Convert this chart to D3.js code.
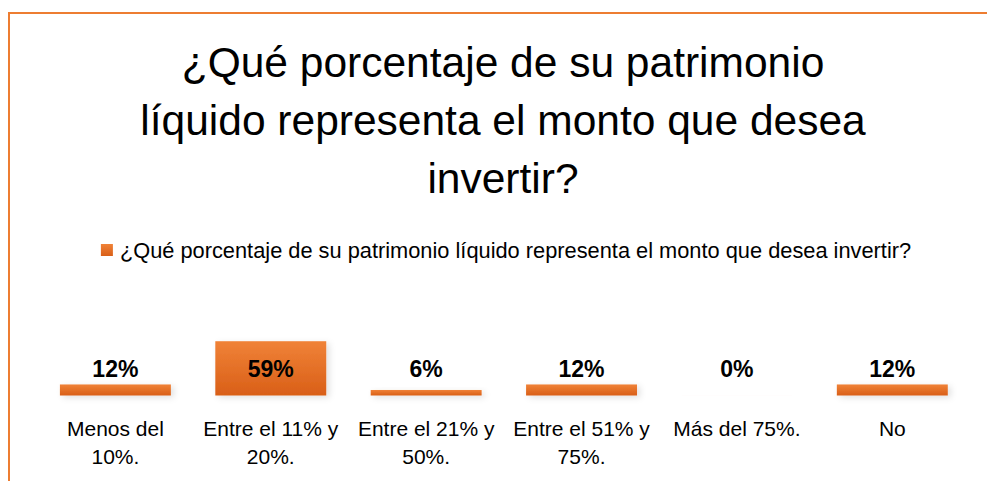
<!DOCTYPE html>
<html>
<head>
<meta charset="utf-8">
<script src="https://cdn.jsdelivr.net/npm/d3@7"></script>
<style>
  html, body { margin: 0; padding: 0; background: #fff; }
  svg { display: block; font-family: "Liberation Sans", Arial, sans-serif; }
</style>
</head>
<body>
<svg class="svg-contents" width="987" height="481" viewBox="0 0 987 481"></svg>
<script>
  "use strict";

  const TITLE_LINES = [
    '¿Qué porcentaje de su patrimonio',
    'líquido representa el monto que desea',
    'invertir?'
  ];
  const SERIES_NAME = '¿Qué porcentaje de su patrimonio líquido representa el monto que desea invertir?';
  const CATEGORIES = [
    'Menos del 10%.',
    'Entre el 11% y 20%.',
    'Entre el 21% y 50%.',
    'Entre el 51% y 75%.',
    'Más del 75%.',
    'No'
  ];
  const VALUES = [0.12, 0.59, 0.06, 0.12, 0, 0.12];

  init();

  function init() {
    let svg = d3.select('.svg-contents'),

      plotLeft = 37.7,
      plotRight = 970,
      baseY = 395.5,
      orange = '#ED7D31';

    let data = CATEGORIES.map(function (c, i) {
      return {cat: c, value: VALUES[i]};
    });

    /*
     * defs : gradient + soft shadow
     */
    let defs = svg.append('defs');

    let grad = defs.append('linearGradient')
      .attr('id', 'barGrad')
      .attr('x1', 0).attr('y1', 0)
      .attr('x2', 0).attr('y2', 1);
    grad.append('stop').attr('offset', '0%').attr('stop-color', '#F08237');
    grad.append('stop').attr('offset', '100%').attr('stop-color', '#D95F18');

    let shadow = defs.append('filter')
      .attr('id', 'barShadow')
      .attr('x', '-20%').attr('y', '-50%')
      .attr('width', '140%').attr('height', '300%');
    shadow.append('feDropShadow')
      .attr('dx', 3).attr('dy', 2)
      .attr('stdDeviation', 3)
      .attr('flood-color', '#000')
      .attr('flood-opacity', 0.12);

    // chart border
    svg.append('rect')
      .attr('x', 9)
      .attr('y', 13)
      .attr('width', 992)
      .attr('height', 500)
      .attr('fill', '#fff')
      .attr('stroke', orange)
      .attr('stroke-width', 2);

    /*
     * title
     */
    svg.append('text')
      .attr('class', 'title')
      .attr('text-anchor', 'middle')
      .attr('font-size', 42.5)
      .attr('fill', '#000')
      .selectAll('tspan')
      .data(TITLE_LINES)
      .enter()
      .append('tspan')
      .attr('x', 503)
      .attr('y', function (d, i) {
        return 77 + i * 58;
      })
      .text(function (d) { return d; });

    /*
     * legend
     */
    let legend = svg.append('g').attr('class', 'legend');
    legend.append('rect')
      .attr('x', 0)
      .attr('y', -7)
      .attr('width', 12)
      .attr('height', 12)
      .attr('fill', 'url(#barGrad)');
    let legendText = legend.append('text')
      .attr('x', 19)
      .attr('y', 7)
      .attr('font-size', 21.8)
      .attr('fill', '#000')
      .text(SERIES_NAME);
    let legendW = 19 + legendText.node().getComputedTextLength();
    legend.attr('transform', 'translate(' + (506 - legendW / 2) + ',251)');

    /*
     * scales
     */
    let scaleX = d3.scaleBand()
      .domain(CATEGORIES)
      .range([plotLeft, plotRight])
      .paddingInner(0.286)
      .paddingOuter(0.143);

    let scaleY = d3.scaleLinear()
      .domain([0, 0.7])
      .range([baseY, baseY - 64.4]);

    /*
     * bars
     */
    svg.append('g')
      .attr('class', 'bars')
      .selectAll('rect')
      .data(data)
      .enter()
      .append('rect')
      .attr('x', function (d) { return scaleX(d.cat); })
      .attr('y', function (d) { return scaleY(d.value); })
      .attr('width', scaleX.bandwidth())
      .attr('height', function (d) { return Math.max(0.01, scaleY(0) - scaleY(d.value)); })
      .attr('fill', 'url(#barGrad)')
      .attr('filter', 'url(#barShadow)');

    // value labels sit on one line above the base
    svg.append('g')
      .attr('class', 'labels')
      .selectAll('text')
      .data(data)
      .enter()
      .append('text')
      .attr('x', function (d) { return scaleX(d.cat) + scaleX.bandwidth() / 2; })
      .attr('y', scaleY(0) - 18.5)
      .attr('text-anchor', 'middle')
      .attr('font-size', 23)
      .attr('font-weight', 'bold')
      .attr('fill', '#000')
      .text(function (d) { return d3.format('.0%')(d.value); });

    /*
     * category axis
     */
    let axisX = d3.axisBottom(scaleX)
      .tickSize(0)
      .tickPadding(0);

    let gx = svg.append('g')
      .attr('class', 'axis-x')
      .attr('transform', 'translate(0,' + baseY + ')')
      .call(axisX);

    gx.select('.domain').remove();
    gx.selectAll('text')
      .attr('font-size', 21)
      .attr('font-family', '"Liberation Sans", Arial, sans-serif')
      .attr('fill', '#000')
      .attr('dy', null)
      .attr('y', 40)
      .call(wrap, 143);

    function wrap(texts, maxW) {
      texts.each(function () {
        let text = d3.select(this),
          words = text.text().split(/\s+/),
          line = [],
          lineNo = 0,
          y = text.attr('y'),
          tspan = text.text(null).append('tspan').attr('x', 0).attr('y', y);

        words.forEach(function (w) {
          line.push(w);
          tspan.text(line.join(' '));
          if (tspan.node().getComputedTextLength() > maxW && line.length > 1) {
            line.pop();
            tspan.text(line.join(' '));
            line = [w];
            lineNo++;
            tspan = text.append('tspan')
              .attr('x', 0)
              .attr('y', +y + lineNo * 28)
              .text(w);
          }
        });
      });
    }
  }
</script>
</body>
</html>
